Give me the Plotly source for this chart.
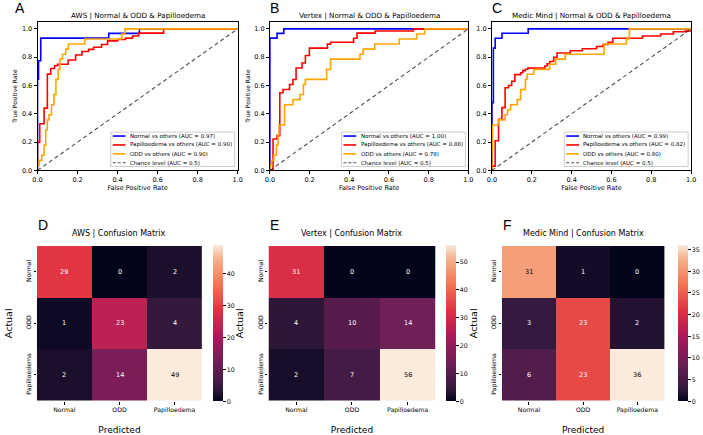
import plotly.graph_objects as go

W, H = 703, 435

# ---------------- data ----------------
roc_titles = ["AWS | Normal & ODD & Papilloedema",
              "Vertex | Normal & ODD & Papilloedema",
              "Medic Mind | Normal & ODD & Papilloedema"]
cm_titles = ["AWS | Confusion Matrix", "Vertex | Confusion Matrix",
             "Medic Mind | Confusion Matrix"]
classes = ["Normal", "ODD", "Papilloedema"]
series_names = ["Normal vs others", "Papilloedema vs others", "ODD vs others"]
auc_values = [[0.97, 0.90, 0.90], [1.00, 0.88, 0.78], [0.99, 0.82, 0.80]]
panel_letters_top = ["A", "B", "C"]
panel_letters_bottom = ["D", "E", "F"]

# AWS
aws_normal_fpr = [0, 0, 0.005, 0.016, 0.356, 0.509, 1.0]
aws_normal_tpr = [0, 0.645, 0.775, 0.935, 0.968, 1.0, 1.0]
aws_pap_fpr = [0, 0, 0.011, 0.033, 0.049, 0.066, 0.085, 0.1, 0.153, 0.19, 0.222,
               0.255, 0.28, 0.32, 0.35, 0.40, 0.44, 0.475, 0.505, 0.63, 1.0]
aws_pap_tpr = [0, 0.2, 0.33, 0.44, 0.68, 0.72, 0.74, 0.75, 0.78, 0.815, 0.84,
               0.855, 0.87, 0.89, 0.915, 0.925, 0.935, 0.95, 0.97, 1.0, 1.0]
aws_odd_fpr = [0, 0, 0.008, 0.021, 0.033, 0.041, 0.049, 0.057, 0.07, 0.082, 0.092,
               0.103, 0.112, 0.125, 0.141, 0.154, 0.236, 0.42, 0.437, 1.0]
aws_odd_tpr = [0, 0.036, 0.071, 0.107, 0.179, 0.286, 0.357, 0.393, 0.464, 0.536, 0.643,
               0.714, 0.786, 0.821, 0.857, 0.893, 0.929, 0.964, 1.0, 1.0]

# Vertex
vtx_normal_fpr = [0, 0, 0.036, 0.07, 1.0]
vtx_normal_tpr = [0, 0.935, 0.968, 1.0, 1.0]
vtx_pap_fpr = [0, 0.016, 0.036, 0.05, 0.066, 0.099, 0.116, 0.132, 0.162, 0.179,
               0.199, 0.29, 0.306, 0.422, 0.439, 0.53, 0.723, 1.0]
vtx_pap_tpr = [0, 0.222, 0.246, 0.549, 0.572, 0.607, 0.642, 0.724, 0.759, 0.812,
               0.864, 0.892, 0.906, 0.934, 0.97, 0.985, 1.0, 1.0]
vtx_odd_fpr = [0, 0, 0.008, 0.02, 0.033, 0.041, 0.046, 0.074, 0.116, 0.152, 0.169,
               0.179, 0.286, 0.306, 0.454, 0.47, 0.528, 0.652, 0.74, 0.78, 1.0]
vtx_odd_tpr = [0, 0.036, 0.071, 0.107, 0.179, 0.25, 0.321, 0.464, 0.5, 0.536, 0.607,
               0.643, 0.714, 0.786, 0.821, 0.857, 0.893, 0.929, 0.964, 1.0, 1.0]

# Medic Mind
mm_normal_fpr = [0, 0, 0.007, 0.016, 0.05, 0.182, 1.0]
mm_normal_tpr = [0, 0.479, 0.864, 0.934, 0.969, 1.0, 1.0]
mm_pap_fpr = [0, 0, 0.016, 0.033, 0.05, 0.066, 0.083, 0.099, 0.115, 0.144, 0.155,
              0.168, 0.18, 0.266, 0.277, 0.29, 0.31, 0.327, 0.393, 0.454, 0.525,
              0.558, 0.583, 0.607, 0.756, 0.847, 0.911, 0.97, 1.0]
mm_pap_tpr = [0, 0.03, 0.21, 0.362, 0.444, 0.584, 0.6, 0.63, 0.677, 0.69, 0.705,
              0.715, 0.723, 0.738, 0.754, 0.77, 0.8, 0.83, 0.845, 0.86, 0.875,
              0.89, 0.906, 0.934, 0.95, 0.964, 0.98, 0.985, 1.0]
mm_odd_fpr = [0, 0, 0.003, 0.033, 0.066, 0.078, 0.094, 0.127, 0.144, 0.168, 0.176,
              0.21, 0.289, 0.32, 0.368, 0.563, 0.675, 0.69, 1.0]
mm_odd_tpr = [0, 0.143, 0.321, 0.357, 0.393, 0.429, 0.464, 0.5, 0.571, 0.643, 0.679,
              0.714, 0.75, 0.786, 0.821, 0.893, 0.929, 1.0, 1.0]

chance_x = [0, 1]
chance_y = [0, 1]

roc_curves = [
    [(aws_normal_fpr, aws_normal_tpr), (aws_pap_fpr, aws_pap_tpr), (aws_odd_fpr, aws_odd_tpr)],
    [(vtx_normal_fpr, vtx_normal_tpr), (vtx_pap_fpr, vtx_pap_tpr), (vtx_odd_fpr, vtx_odd_tpr)],
    [(mm_normal_fpr, mm_normal_tpr), (mm_pap_fpr, mm_pap_tpr), (mm_odd_fpr, mm_odd_tpr)],
]

cm_aws = [[29, 0, 2], [1, 23, 4], [2, 14, 49]]
cm_vertex = [[31, 0, 0], [4, 10, 14], [2, 7, 56]]
cm_medic = [[31, 1, 0], [3, 23, 2], [6, 23, 36]]
cms = [cm_aws, cm_vertex, cm_medic]
cbar_dticks = [10, 10, 5]

roc_ticks = [0.0, 0.2, 0.4, 0.6, 0.8, 1.0]

# ---------------- styles ----------------
line_colors = ["#0000ff", "#ff0000", "#ffa500"]
rocket = [
    [0.0, "#03051a"], [0.0833, "#35193e"], [0.25, "#701f57"], [0.4167, "#ad1759"],
    [0.5833, "#e13342"], [0.75, "#f37651"], [0.9167, "#f6b48f"], [1.0, "#faebdd"],
]
FONT = "DejaVu Sans"

# pixel layout
roc_x_px = [(33, 236), (268.7, 470), (494, 696)]
roc_y_px = (22, 172)
cm_x_px = [(32.3, 200), (267.3, 436.7), (504, 669)]
cm_y_px = (248.3, 404.3)
cbar_x_px = [210.7, 447.3, 682.3]


def px(v):
    return v / W


def py(v):
    return 1 - v / H


def hex2rgb(h):
    h = h.lstrip("#")
    return [int(h[i:i + 2], 16) for i in (0, 2, 4)]


def color_at(t):
    for (a, ca), (b, cb) in zip(rocket[:-1], rocket[1:]):
        if a <= t <= b:
            f = 0 if b == a else (t - a) / (b - a)
            r1, r2 = hex2rgb(ca), hex2rgb(cb)
            return [r1[k] + f * (r2[k] - r1[k]) for k in range(3)]
    return hex2rgb(rocket[-1][1])


def luminance(rgb):
    out = []
    for c in rgb:
        c = c / 255
        out.append(c / 12.92 if c <= 0.03928 else ((c + 0.055) / 1.055) ** 2.4)
    return 0.2126 * out[0] + 0.7152 * out[1] + 0.0722 * out[2]


fig = go.Figure()
annotations = []
shapes = []

# ---------------- ROC panels ----------------
for i in range(3):
    ax = "" if i == 0 else str(i + 1)
    xref, yref = "x" + ax, "y" + ax
    for j in range(3):
        fpr, tpr = roc_curves[i][j]
        fig.add_trace(go.Scatter(
            x=fpr, y=tpr, mode="lines", line=dict(color=line_colors[j], width=1.6, shape="hv"),
            name=f"{series_names[j]} (AUC = {auc_values[i][j]:.2f})",
            xaxis=xref, yaxis=yref, showlegend=False, hoverinfo="skip"))
    fig.add_trace(go.Scatter(
        x=chance_x, y=chance_y, mode="lines",
        line=dict(color="rgba(0,0,0,0.7)", width=1.1, dash="4px,3px"),
        name="Chance level (AUC = 0.5)", xaxis=xref, yaxis=yref,
        showlegend=False, hoverinfo="skip"))

    x0, x1 = roc_x_px[i]
    y0, y1 = roc_y_px
    axis_common = dict(showgrid=False, zeroline=False, showline=True, mirror=True,
                       linecolor="black", linewidth=1, ticks="outside", ticklen=3,
                       tickwidth=1, tickcolor="black",
                       tickfont=dict(family=FONT, size=6.5, color="black"),
                       tickvals=roc_ticks, ticktext=[f"{t:.1f}" for t in roc_ticks])
    fig.update_layout(**{
        "xaxis" + ax: dict(domain=[px(x0), px(x1)], range=[0, 1], anchor=yref,
                           title=dict(text="False Positive Rate", standoff=2,
                                      font=dict(family=FONT, size=6.5, color="black")),
                           **axis_common),
        "yaxis" + ax: dict(domain=[py(y1), py(y0)], range=[0, 1.05], anchor=xref,
                           title=dict(text="True Positive Rate" if i < 2 else "", standoff=3,
                                      font=dict(family=FONT, size=6, color="black")),
                           **axis_common),
    })
    # title
    annotations.append(dict(x=px((x0 + x1) / 2), y=py(15.3), xref="paper", yref="paper",
                            text=roc_titles[i], showarrow=False, xanchor="center",
                            yanchor="middle",
                            font=dict(family=FONT, size=7.2, color="black")))
    # manual legend box
    bx0, bx1 = x1 - 128.7, x1 - 3
    by0, by1 = y1 - 38.7, y1 - 4
    shapes.append(dict(type="rect", xref="paper", yref="paper",
                       x0=px(bx0), x1=px(bx1), y0=py(by1), y1=py(by0),
                       fillcolor="rgba(255,255,255,0.8)",
                       line=dict(color="#cccccc", width=1)))
    labels = [f"{series_names[j]} (AUC = {auc_values[i][j]:.2f})" for j in range(3)]
    labels.append("Chance level (AUC = 0.5)")
    colors = line_colors + ["rgba(0,0,0,0.7)"]
    for j in range(4):
        ry = by0 + 4 + 9 * j
        shapes.append(dict(type="line", xref="paper", yref="paper",
                           x0=px(bx0 + 2), x1=px(bx0 + 15), y0=py(ry), y1=py(ry),
                           line=dict(color=colors[j], width=1.6 if j < 3 else 1.1,
                                     dash="solid" if j < 3 else "3px,2px")))
        annotations.append(dict(x=px(bx0 + 17.5), y=py(ry), xref="paper", yref="paper",
                                text=labels[j], showarrow=False, xanchor="left",
                                yanchor="middle",
                                font=dict(family=FONT, size=5.5, color="black")))
    annotations.append(dict(x=px(x0 - 25 if i == 0 else x0 - 2), y=py(8), xref="paper",
                            yref="paper", text=panel_letters_top[i], showarrow=False,
                            xanchor="left", yanchor="middle",
                            font=dict(family="Liberation Sans", size=14, color="black")))

# ---------------- Confusion matrices ----------------
for i in range(3):
    k = i + 4
    ax = str(k)
    xref, yref = "x" + ax, "y" + ax
    z = cms[i]
    zmax = max(max(r) for r in z)
    x0, x1 = cm_x_px[i]
    y0, y1 = cm_y_px
    fig.add_trace(go.Heatmap(
        z=z, x=classes, y=classes, colorscale=rocket, zmin=0, zmax=zmax,
        xaxis=xref, yaxis=yref, hoverinfo="skip",
        colorbar=dict(x=px(cbar_x_px[i]), xanchor="left", xpad=0, ypad=0,
                      y=py((y0 + y1) / 2), yanchor="middle", len=(y1 - y0),
                      lenmode="pixels", thickness=10, outlinewidth=0,
                      ticks="outside", ticklen=3, tickwidth=1, tickcolor="black",
                      dtick=cbar_dticks[i], tick0=0,
                      tickfont=dict(family=FONT, size=6.3, color="black"))))
    for r in range(3):
        for c in range(3):
            lum = luminance(color_at(z[r][c] / zmax))
            annotations.append(dict(x=classes[c], y=classes[r], xref=xref, yref=yref,
                                    text=str(z[r][c]), showarrow=False,
                                    font=dict(family=FONT, size=6.5,
                                              color="black" if lum > 0.408 else "white")))
    fig.update_layout(**{
        "xaxis" + ax: dict(domain=[px(x0), px(x1)], anchor=yref, showgrid=False,
                           zeroline=False, showline=False, ticks="outside", ticklen=3,
                           tickcolor="black",
                           tickfont=dict(family=FONT, size=6.2, color="black"),
                           title=dict(text="Predicted", standoff=13,
                                      font=dict(family=FONT, size=9, color="black"))),
        "yaxis" + ax: dict(domain=[py(y1), py(y0)], anchor=xref, showgrid=False,
                           zeroline=False, showline=False, autorange="reversed",
                           ticks="outside", ticklen=2, tickcolor="black", tickangle=-90,
                           tickfont=dict(family=FONT, size=6.2, color="black"),
                           title=dict(text="Actual", standoff=11,
                                      font=dict(family=FONT, size=9.5, color="black"))),
    })
    annotations.append(dict(x=px((x0 + x1) / 2), y=py(236), xref="paper", yref="paper",
                            text=cm_titles[i], showarrow=False, xanchor="center",
                            yanchor="middle",
                            font=dict(family=FONT, size=8, color="black")))
    annotations.append(dict(x=px(x0 - 1), y=py(227), xref="paper", yref="paper",
                            text=panel_letters_bottom[i], showarrow=False, xanchor="left",
                            yanchor="middle",
                            font=dict(family="Liberation Sans", size=14, color="black")))

fig.update_layout(width=W, height=H, margin=dict(l=0, r=0, t=0, b=0),
                  paper_bgcolor="white", plot_bgcolor="white", showlegend=False,
                  annotations=annotations, shapes=shapes)

fig.write_html("out.html")
